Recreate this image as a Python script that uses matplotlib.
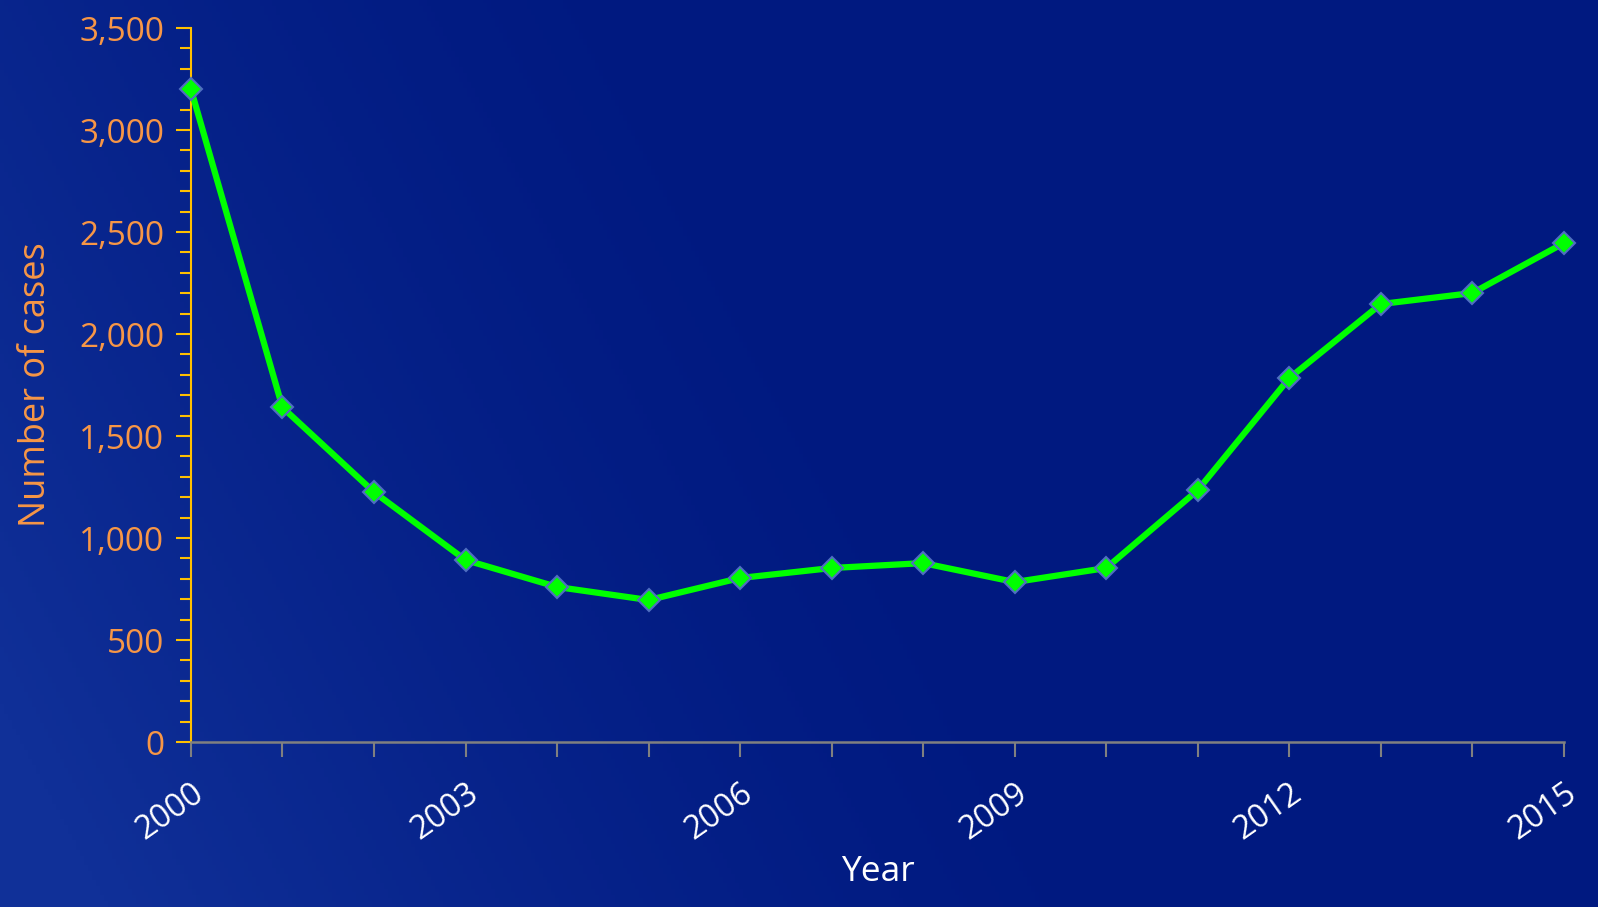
import matplotlib
matplotlib.use("Agg")
import matplotlib.pyplot as plt
import numpy as np
from matplotlib.ticker import MultipleLocator, FuncFormatter

years = list(range(2000, 2016))
cases = [3200, 1640, 1225, 892, 760, 696, 804, 853, 877, 784, 853, 1235, 1784, 2147, 2201, 2446]
year_labels = ["2000", "2003", "2006", "2009", "2012", "2015"]

plt.rcParams['font.family'] = ['Open Sans', 'DejaVu Sans']

fig = plt.figure(figsize=(15.98, 9.07), dpi=100)

# background gradient
bg = fig.add_axes([0, 0, 1, 1], zorder=0)
xx, yy = np.meshgrid(np.linspace(0, 1, 400), np.linspace(0, 1, 300))
t = np.clip(1.1 - (xx * 1.5 + yy * 0.45), 0, 1) ** 1.5
c0 = np.array([0x00, 0x19, 0x80]) / 255
c1 = np.array([0x10, 0x30, 0x98]) / 255
img = c0[None, None, :] * (1 - t[..., None]) + c1[None, None, :] * t[..., None]
bg.imshow(img, aspect='auto', extent=[0, 1, 0, 1], origin='lower')
bg.axis('off')

ax = fig.add_axes([0.1195, 0.1819, 0.8592, 0.7872], zorder=1)
ax.patch.set_alpha(0)

ax.plot(years, cases, color='#00FF00', linewidth=4.5, marker='D', markersize=11,
        markerfacecolor='#00FF00', markeredgecolor='#4F6FC0', markeredgewidth=1.5,
        clip_on=False, zorder=3)

ax.set_xlim(2000, 2015)
ax.set_ylim(0, 3500)

orange = '#F79646'
gold = '#FFC000'

ax.yaxis.set_major_locator(MultipleLocator(500))
ax.yaxis.set_minor_locator(MultipleLocator(100))
ax.yaxis.set_major_formatter(FuncFormatter(lambda v, p: f"{int(v):,}"))
ax.tick_params(axis='y', which='both', direction='out', colors=gold, labelcolor=orange,
               labelsize=24, width=1.5, pad=8)
ax.tick_params(axis='y', which='major', length=11)
ax.tick_params(axis='y', which='minor', length=8)

ax.set_xticks(years)
ax.set_xticklabels([str(y) if str(y) in year_labels else "" for y in years])
ax.tick_params(axis='x', direction='out', colors='#808080', labelcolor='white',
               labelsize=23.5, length=11, width=1.5, pad=14)
for lab in ax.get_xticklabels():
    lab.set_rotation(35)
    lab.set_ha('right')
    lab.set_va('top')
    lab.set_rotation_mode('anchor')

for s in ['top', 'right']:
    ax.spines[s].set_visible(False)
ax.spines['left'].set_color(gold)
ax.spines['left'].set_linewidth(1.5)
ax.spines['bottom'].set_color('#808080')
ax.spines['bottom'].set_linewidth(1.8)

ax.set_ylabel("Number of cases", color=orange, fontsize=26, labelpad=18)
ax.set_xlabel("Year", color='white', fontsize=25.5, labelpad=6)

fig.savefig("out.png", dpi=100)
